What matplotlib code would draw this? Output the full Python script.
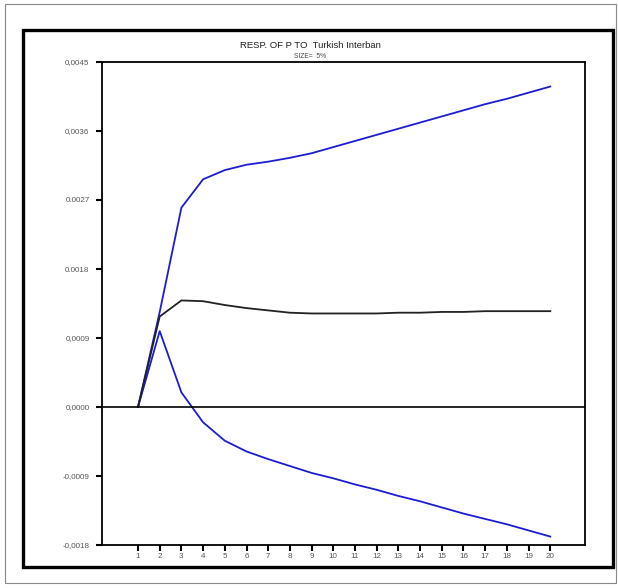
import numpy as np
import matplotlib
matplotlib.use('Agg')
import matplotlib.pyplot as plt
from matplotlib.patches import Rectangle

plt.rcParams['font.family'] = ['Liberation Sans', 'DejaVu Sans']

# impulse response and confidence bands, periods 1..20
periods = list(range(1, 21))
resp = [0.0, 0.00118, 0.00139, 0.00138, 0.00133, 0.00129, 0.00126, 0.00123, 0.00122, 0.00122,
        0.00122, 0.00122, 0.00123, 0.00123, 0.00124, 0.00124, 0.00125, 0.00125, 0.00125, 0.00125]
upper = [0.0, 0.00124, 0.00260, 0.00297, 0.00309, 0.00316, 0.00320, 0.00325, 0.00331, 0.00339,
         0.00347, 0.00355, 0.00363, 0.00371, 0.00379, 0.00387, 0.00395, 0.00402, 0.00410, 0.00418]
lower = [0.0, 0.00099, 0.00019, -0.00020, -0.00044, -0.00058, -0.00068, -0.00077, -0.00086, -0.00093,
         -0.00101, -0.00108, -0.00116, -0.00123, -0.00131, -0.00139, -0.00146, -0.00153, -0.00161, -0.00169]

ytick_vals = [-0.0018, -0.0009, 0.0, 0.0009, 0.0018, 0.0027, 0.0036, 0.0045]
ytick_labels = ['-0,0018', '-0,0009', '0,0000', '0,0009', '0.0018', '0.0027', '0,0036', '0,0045']

title = 'RESP. OF P TO  Turkish Interban'
subtitle = 'SIZE=  5%'

W, H = 618, 588
fig = plt.figure(figsize=(W / 100, H / 100), dpi=100)

def fx(px):
    return px / W

def fy(py):
    return 1 - py / H

# outer thin border and thick frame
fig.patches.append(Rectangle((fx(5), fy(583)), fx(611), (579) / H, transform=fig.transFigure,
                             fill=False, edgecolor='#888888', linewidth=0.8))
fig.patches.append(Rectangle((fx(23), fy(567)), fx(590), (537) / H, transform=fig.transFigure,
                             fill=False, edgecolor='black', linewidth=2.4))

ax = fig.add_axes([fx(102), fy(545), fx(483), (483) / H])

ax.plot(periods, upper, color='#1c1cd4', linewidth=1.3)
ax.plot(periods, lower, color='#1c1cd4', linewidth=1.3)
ax.plot(periods, resp, color='#222222', linewidth=1.3)
ax.axhline(0, color='black', linewidth=1.2)

ax.set_xlim(-0.66, 21.6)
ax.set_ylim(-0.0018, 0.0045)
ax.set_xticks(periods)
ax.set_xticklabels([str(p) for p in periods])
ax.set_yticks(ytick_vals)
ax.set_yticklabels(ytick_labels)
ax.tick_params(axis='both', direction='out', length=4, width=1.5, labelsize=5.8,
               labelcolor='#555555', pad=2)
ax.tick_params(axis='y', pad=5)
for s in ax.spines.values():
    s.set_linewidth(1.3)

fig.text(fx(310), fy(45), title, ha='center', va='center', fontsize=6.8, color='#222222')
fig.text(fx(310), fy(56), subtitle, ha='center', va='center', fontsize=4.8, color='#444444')

fig.savefig('out.png', dpi=100)
